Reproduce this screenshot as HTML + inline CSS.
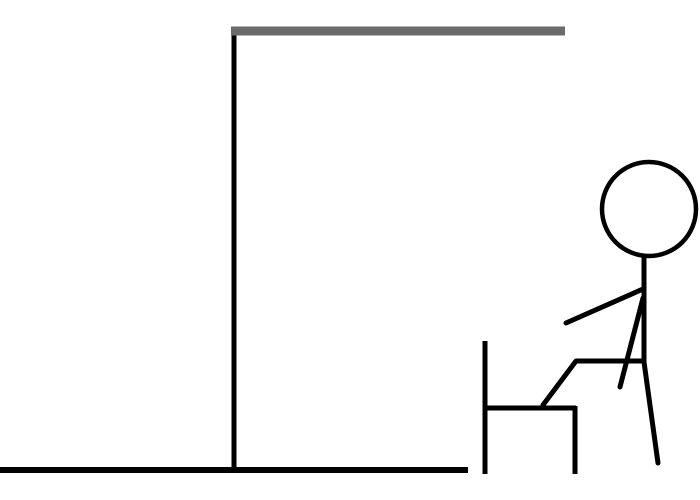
<!DOCTYPE html>
<html><head><meta charset="utf-8"><style>
html,body{margin:0;padding:0;background:#fff;width:700px;height:500px;overflow:hidden}
svg{display:block}
</style></head><body>
<svg width="700" height="500" viewBox="0 0 700 500">
  <g stroke="#000" stroke-width="5" fill="none" stroke-linecap="butt">
    <line x1="0" y1="470" x2="468" y2="470" stroke-width="6"/>
    <line x1="234" y1="28" x2="234" y2="470"/>
    <line x1="231" y1="31" x2="565" y2="31" stroke="#6b6b6b" stroke-width="9"/>
    <g>
      <line x1="485" y1="341" x2="485" y2="474"/>
      <line x1="485" y1="408" x2="576" y2="408"/>
      <line x1="575" y1="406" x2="575" y2="474"/>
    </g>
    <g stroke-linecap="round" stroke-linejoin="round">
      <circle cx="649" cy="209" r="47" stroke-width="4.5"/>
      <line x1="644" y1="257" x2="644" y2="362"/>
      <line x1="644" y1="362" x2="658" y2="463"/>
      <line x1="643" y1="289" x2="566" y2="323"/>
      <line x1="643" y1="298" x2="620" y2="387"/>
      <polyline points="644,361 576,361 543,405"/>
    </g>
  </g>
</svg>
</body></html>
